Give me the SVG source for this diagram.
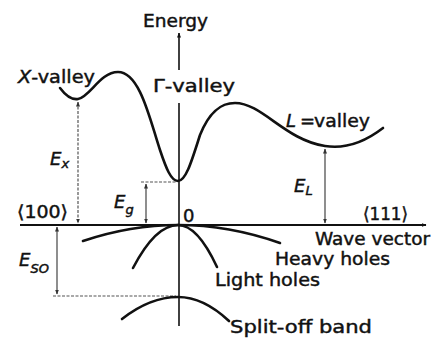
<svg xmlns="http://www.w3.org/2000/svg" width="437" height="343" viewBox="0 0 437 343">
<defs>
<marker id="ah" viewBox="0 0 10 10" refX="9" refY="5" markerWidth="5" markerHeight="6" orient="auto-start-reverse" markerUnits="userSpaceOnUse">
<path d="M0,1 L10,5 L0,9 Z" fill="#111"/>
</marker>
<marker id="ahs" viewBox="0 0 10 10" refX="9" refY="5" markerWidth="5" markerHeight="5" orient="auto-start-reverse" markerUnits="userSpaceOnUse">
<path d="M0,1 L10,5 L0,9 Z" fill="#333"/>
</marker>
<style>
.t{font-family:"DejaVu Sans","Liberation Sans",sans-serif;font-size:18px;fill:#111;stroke:#111;stroke-width:0.45;}
.i{font-style:italic;}
.sub{font-size:13px;font-style:italic;}
.band{fill:none;stroke:#111;stroke-width:2.6;stroke-linecap:round;}
.ax{fill:none;stroke:#111;stroke-width:1.6;}
.dim{fill:none;stroke:#444;stroke-width:1.2;}
.dash{fill:none;stroke:#555;stroke-width:1.2;stroke-dasharray:3,1.5;}
</style>
</defs>
<rect width="437" height="343" fill="#fff"/>
<g id="connectors">
<line class="ax" x1="179" y1="70" x2="179" y2="33" marker-end="url(#ah)"/>
<line class="ax" x1="179" y1="103" x2="179" y2="326"/>
<line x1="20" y1="225" x2="140" y2="225" stroke="#111" stroke-width="1.8"/>
<line x1="140" y1="225" x2="426" y2="225" stroke="#111" stroke-width="2.2" marker-end="url(#ah)"/>
<line class="dash" x1="78" y1="102" x2="78" y2="223" marker-start="url(#ahs)" marker-end="url(#ahs)"/>
<line class="dim" x1="325" y1="149" x2="325" y2="223" marker-start="url(#ahs)" marker-end="url(#ahs)"/>
<line class="dim" x1="146" y1="184" x2="146" y2="223" marker-start="url(#ahs)" marker-end="url(#ahs)"/>
<line class="dash" x1="141" y1="182" x2="176" y2="182"/>
<line class="dim" x1="57" y1="227" x2="57" y2="294" marker-start="url(#ahs)" marker-end="url(#ahs)"/>
<line class="dash" x1="53" y1="296" x2="176" y2="296"/>
</g>
<g id="conduction-band">
<path class="band" d="M60,88 C66,96 72,100 78,99 C90,97 100,72 118,72 C140,72 150,120 160,150 C166,168 171,181 178,181 C186,181 192,160 200,135 C210,110 222,103 235,103 C262,103 285,140 325,146 C350,150 370,138 383,128"/>
</g>
<g id="heavy-holes">
<path class="band" d="M83,241 Q130.5,225 178,225 Q229,225 280,243"/>
</g>
<g id="light-holes">
<path class="band" d="M133,268 Q155.5,225 178,225 Q197.5,225 217,267"/>
</g>
<g id="split-off-band">
<path class="band" d="M122,319 Q150,297 178,297 Q203.5,297 229,321"/>
</g>
<g id="labels">
<text class="t" x="143" y="27" textLength="65" lengthAdjust="spacingAndGlyphs">Energy</text>
<text class="t" x="18" y="83" textLength="77" lengthAdjust="spacingAndGlyphs"><tspan class="i">X</tspan>-valley</text>
<text class="t" x="153" y="92" textLength="82" lengthAdjust="spacingAndGlyphs">Γ-valley</text>
<text class="t" x="286" y="127"><tspan class="i">L</tspan> <tspan x="300">=</tspan> <tspan x="314" textLength="56" lengthAdjust="spacingAndGlyphs">valley</tspan></text>
<text class="t i" x="50" y="165">E<tspan class="sub" dy="3">x</tspan></text>
<text class="t i" x="294" y="192">E<tspan class="sub" dy="3">L</tspan></text>
<text class="t i" x="114" y="208">E<tspan class="sub" dy="6">g</tspan></text>
<text class="t i" x="19" y="266">E<tspan class="sub" dy="7">SO</tspan></text>
<text class="t" x="17" y="218" textLength="51" lengthAdjust="spacingAndGlyphs">⟨100⟩</text>
<text class="t" x="183" y="222">0</text>
<text class="t" x="363" y="220" textLength="45" lengthAdjust="spacingAndGlyphs">⟨111⟩</text>
<text class="t" x="315" y="245" textLength="115" lengthAdjust="spacingAndGlyphs">Wave vector</text>
<text class="t" x="275" y="265" textLength="115" lengthAdjust="spacingAndGlyphs">Heavy holes</text>
<text class="t" x="215" y="286" textLength="105" lengthAdjust="spacingAndGlyphs">Light holes</text>
<text class="t" x="230" y="333" textLength="142" lengthAdjust="spacingAndGlyphs">Split-off band</text>
</g>
</svg>
